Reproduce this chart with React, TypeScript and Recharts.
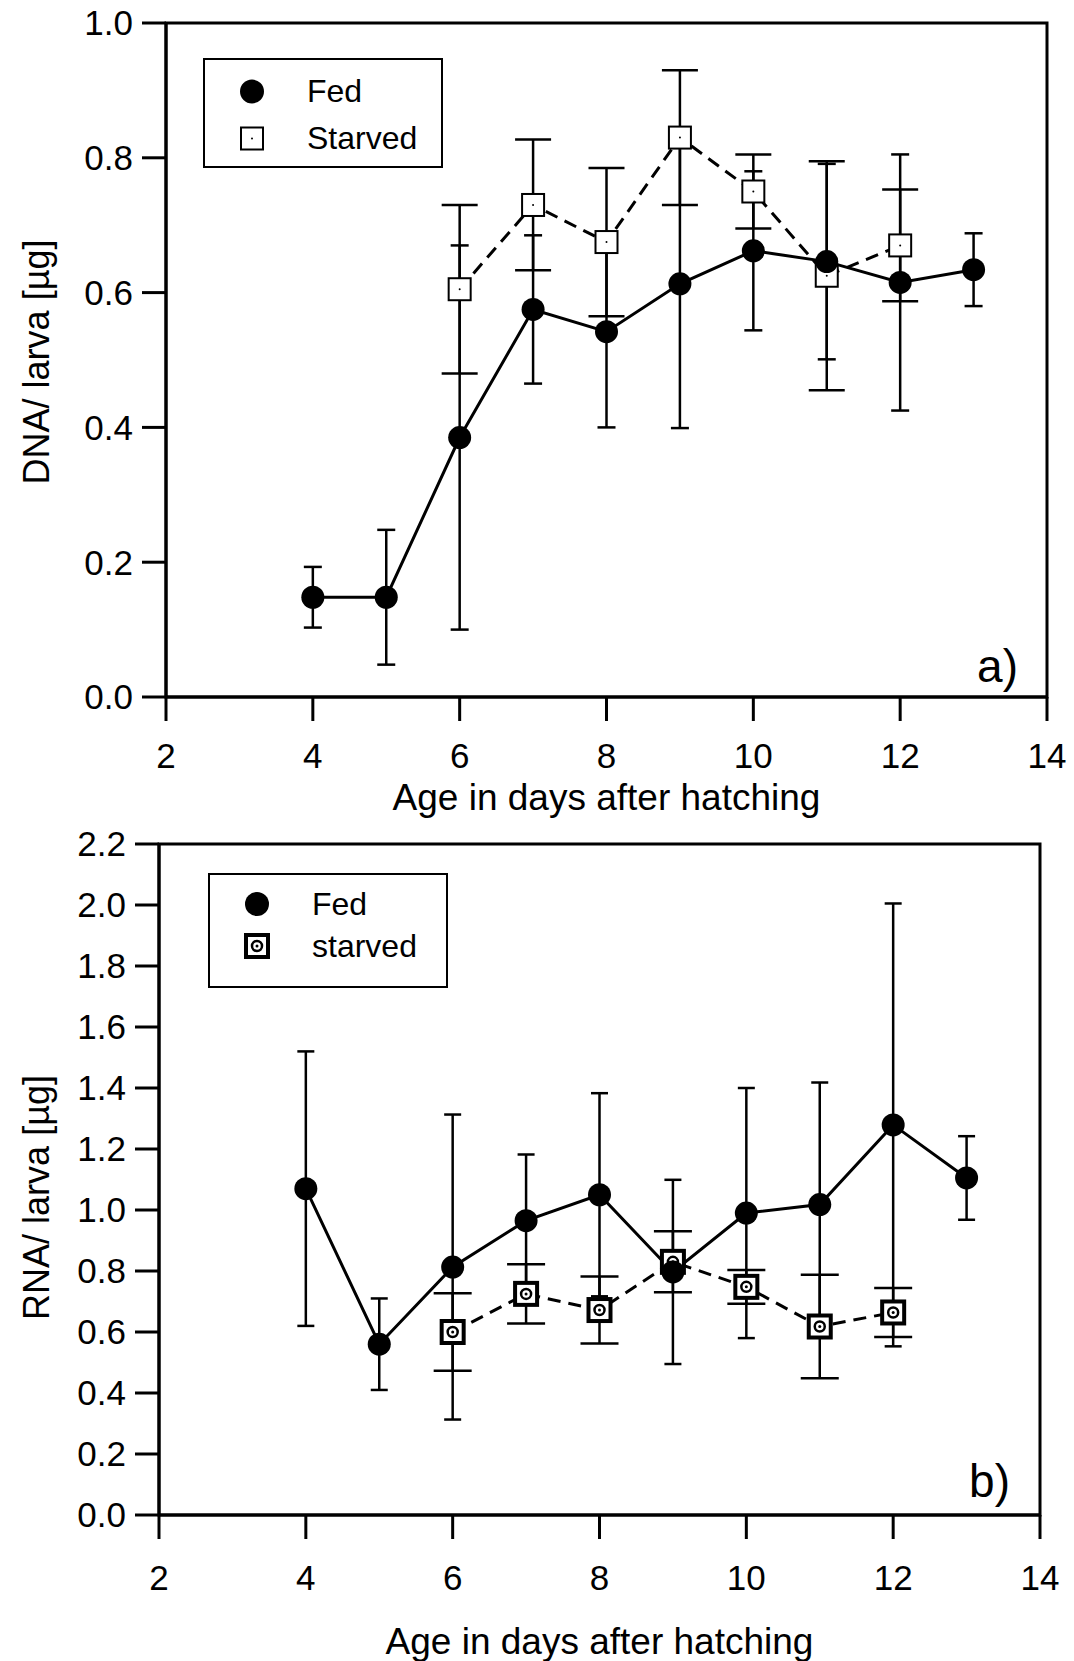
import React from 'react';
import {
  ComposedChart,
  Line,
  XAxis,
  YAxis,
  ErrorBar,
  Label,
  Legend,
  ReferenceArea,
} from 'recharts';

const FONT = '"Liberation Sans", Arial, Helvetica, sans-serif';

// days after hatching
const fedDays = [4, 5, 6, 7, 8, 9, 10, 11, 12, 13];
const starvedDays = [6, 7, 8, 9, 10, 11, 12];

// a) DNA per larva
const dnaFed = [0.148, 0.148, 0.385, 0.575, 0.542, 0.613, 0.662, 0.646, 0.615, 0.634];
const dnaFedSd = [0.045, 0.1, 0.285, 0.11, 0.142, 0.214, 0.118, 0.145, 0.19, 0.054];
const dnaStarved = [0.605, 0.73, 0.675, 0.83, 0.75, 0.625, 0.67];
const dnaStarvedSd = [0.125, 0.097, 0.11, 0.1, 0.055, 0.17, 0.083];

// b) RNA per larva
const rnaFed = [1.07, 0.56, 0.813, 0.965, 1.05, 0.797, 0.99, 1.018, 1.279, 1.105];
const rnaFedSd = [0.45, 0.15, 0.5, 0.217, 0.333, 0.302, 0.41, 0.4, 0.726, 0.137];
const rnaStarved = [0.6, 0.725, 0.672, 0.83, 0.748, 0.618, 0.664];
const rnaStarvedSd = [0.127, 0.097, 0.11, 0.1, 0.055, 0.17, 0.08];

const xTicks = [2, 4, 6, 8, 10, 12, 14];
const dnaTicks = [0, 0.2, 0.4, 0.6, 0.8, 1.0];
const rnaTicks = [0, 0.2, 0.4, 0.6, 0.8, 1.0, 1.2, 1.4, 1.6, 1.8, 2.0, 2.2];

const toRows = (days: number[], vals: number[], sds: number[]) =>
  days.map((day, i) => ({ day, value: vals[i], sd: sds[i] }));

const FedDot = (props: any) => {
  const { cx, cy, index } = props;
  if (cx == null || cy == null) return <g key={`f-${index}`} />;
  return <circle key={`f-${index}`} cx={cx} cy={cy} r={11.5} fill="#000" />;
};

const OpenSquare = (props: any) => {
  const { cx, cy, index } = props;
  if (cx == null || cy == null) return <g key={`s-${index}`} />;
  return (
    <g key={`s-${index}`}>
      <rect x={cx - 11} y={cy - 11} width={22} height={22} fill="#fff" stroke="#000" strokeWidth={2} />
      <circle cx={cx} cy={cy} r={1} fill="#000" />
    </g>
  );
};

const BoxedDot = (props: any) => {
  const { cx, cy, index } = props;
  if (cx == null || cy == null) return <g key={`b-${index}`} />;
  return (
    <g key={`b-${index}`}>
      <rect x={cx - 11} y={cy - 11} width={22} height={22} fill="#fff" stroke="#000" strokeWidth={4} />
      <circle cx={cx} cy={cy} r={5} fill="#fff" stroke="#000" strokeWidth={2.5} />
      <circle cx={cx} cy={cy} r={1.5} fill="#000" />
    </g>
  );
};

const markerFor = (kind: string, cx: number, cy: number) => {
  if (kind === 'circle') return <circle cx={cx} cy={cy} r={12} fill="#000" />;
  if (kind === 'open') return <OpenSquare cx={cx} cy={cy} index={0} />;
  return <BoxedDot cx={cx} cy={cy} index={0} />;
};

const makeLegend =
  (items: { name: string; kind: string }[], rowGap: number) => () =>
    (
      <div
        style={{
          border: '2px solid #000',
          width: '100%',
          height: '100%',
          boxSizing: 'border-box',
          background: '#fff',
          paddingTop: 8,
        }}
      >
        {items.map((it) => (
          <div key={it.name} style={{ display: 'flex', alignItems: 'center', height: rowGap }}>
            <svg width={80} height={rowGap}>
              {markerFor(it.kind, 47, rowGap / 2)}
            </svg>
            <span style={{ fontFamily: FONT, fontSize: 32, color: '#000', marginLeft: 22 }}>{it.name}</span>
          </div>
        ))}
      </div>
    );

const yTitle = (text: string, dx: number, dy: number) => (props: any) => {
  const { x, y, height } = props.viewBox;
  const cx = x + dx;
  const cy = y + height / 2 + dy;
  return (
    <text
      x={cx}
      y={cy}
      transform={`rotate(-90, ${cx}, ${cy})`}
      textAnchor="middle"
      dominantBaseline="central"
      fontSize={36}
      fontFamily={FONT}
      fill="#000"
    >
      {text}
    </text>
  );
};

const xTitle = (text: string, dy: number) => (props: any) => {
  const { x, y, width } = props.viewBox;
  return (
    <text
      x={x + width / 2}
      y={y + dy}
      textAnchor="middle"
      dominantBaseline="central"
      fontSize={37}
      fontFamily={FONT}
      fill="#000"
    >
      {text}
    </text>
  );
};

const panelTag = (text: string, dx: number, dy: number) => (props: any) => {
  const { x, y, width, height } = props.viewBox;
  return (
    <text x={x + width - dx} y={y + height - dy} textAnchor="end" fontSize={46} fontFamily={FONT} fill="#000">
      {text}
    </text>
  );
};

const axisLine = { stroke: '#000', strokeWidth: 3 };
const tickStyle = { fill: '#000', fontSize: 35, fontFamily: FONT };

interface PanelProps {
  height: number;
  margin: { top: number; right: number; left: number; bottom: number };
  yWidth: number;
  xHeight: number;
  yMax: number;
  yTicks: number[];
  yLabel: string;
  yLabelDy: number;
  xTitleDy: number;
  xTickMargin: number;
  tag: string;
  tagDx: number;
  tagDy: number;
  fed: any[];
  starved: any[];
  starvedDot: any;
  fedCap: number;
  starvedCap: number;
  legend: { name: string; kind: string }[];
  legendBox: { left: number; top: number; width: number; height: number };
  legendRow: number;
}

function Panel(p: PanelProps) {
  return (
    <ComposedChart width={1074} height={p.height} margin={p.margin}>
      <XAxis
        dataKey="day"
        type="number"
        domain={[2, 14]}
        ticks={xTicks}
        allowDuplicatedCategory={false}
        height={p.xHeight}
        axisLine={axisLine}
        tickLine={axisLine}
        tickSize={24}
        tickMargin={p.xTickMargin}
        tick={tickStyle}
      >
        <Label content={xTitle('Age in days after hatching', p.xTitleDy)} />
      </XAxis>
      <YAxis
        type="number"
        domain={[0, p.yMax]}
        ticks={p.yTicks}
        width={p.yWidth}
        axisLine={axisLine}
        tickLine={axisLine}
        tickSize={24}
        tickMargin={9}
        tick={tickStyle}
        tickFormatter={(v: number) => v.toFixed(1)}
      >
        <Label content={yTitle(p.yLabel, 36, p.yLabelDy)} />
      </YAxis>
      <ReferenceArea
        x1={2}
        x2={14}
        y1={0}
        y2={p.yMax}
        fill="none"
        stroke="#000"
        strokeWidth={3}
        ifOverflow="visible"
        label={<Label content={panelTag(p.tag, p.tagDx, p.tagDy)} />}
      />
      <Legend
        layout="vertical"
        align="center"
        verticalAlign="middle"
        wrapperStyle={{ ...p.legendBox }}
        content={makeLegend(p.legend, p.legendRow)}
      />
      <Line
        data={p.starved}
        dataKey="value"
        name={p.legend[1].name}
        stroke="#000"
        strokeWidth={3}
        strokeDasharray="13 8"
        dot={p.starvedDot}
        activeDot={false}
        isAnimationActive={false}
      >
        <ErrorBar dataKey="sd" width={p.starvedCap} stroke="#000" strokeWidth={2.5} />
      </Line>
      <Line
        data={p.fed}
        dataKey="value"
        name={p.legend[0].name}
        stroke="#000"
        strokeWidth={3}
        dot={FedDot}
        activeDot={false}
        isAnimationActive={false}
      >
        <ErrorBar dataKey="sd" width={p.fedCap} stroke="#000" strokeWidth={2.5} />
      </Line>
    </ComposedChart>
  );
}

export default function App() {
  return (
    <div style={{ position: 'absolute', left: 0, top: 0, width: 1074, height: 1661, background: '#fff' }}>
      <div style={{ position: 'absolute', left: 0, top: 0 }}>
        <Panel
          height={820}
          margin={{ top: 23, right: 27, left: 0, bottom: 0 }}
          yWidth={166}
          xHeight={123}
          yMax={1.0}
          yTicks={dnaTicks}
          yLabel="DNA/ larva [µg]"
          yLabelDy={2}
          xTitleDy={100}
          xTickMargin={22}
          tag="a)"
          tagDx={29}
          tagDy={15}
          fed={toRows(fedDays, dnaFed, dnaFedSd)}
          starved={toRows(starvedDays, dnaStarved, dnaStarvedSd)}
          starvedDot={OpenSquare}
          fedCap={9}
          starvedCap={18}
          legend={[
            { name: 'Fed', kind: 'circle' },
            { name: 'Starved', kind: 'open' },
          ]}
          legendBox={{ left: 203, top: 58, width: 240, height: 110 }}
          legendRow={47}
        />
      </div>
      <div style={{ position: 'absolute', left: 0, top: 820 }}>
        <Panel
          height={841}
          margin={{ top: 24, right: 34, left: 0, bottom: 0 }}
          yWidth={159}
          xHeight={146}
          yMax={2.2}
          yTicks={rnaTicks}
          yLabel="RNA/ larva [µg]"
          yLabelDy={18}
          xTitleDy={126}
          xTickMargin={26}
          tag="b)"
          tagDx={30}
          tagDy={18}
          fed={toRows(fedDays, rnaFed, rnaFedSd)}
          starved={toRows(starvedDays, rnaStarved, rnaStarvedSd)}
          starvedDot={BoxedDot}
          fedCap={8.5}
          starvedCap={19}
          legend={[
            { name: 'Fed', kind: 'circle' },
            { name: 'starved', kind: 'boxed' },
          ]}
          legendBox={{ left: 208, top: 53, width: 240, height: 115 }}
          legendRow={42}
        />
      </div>
    </div>
  );
}
